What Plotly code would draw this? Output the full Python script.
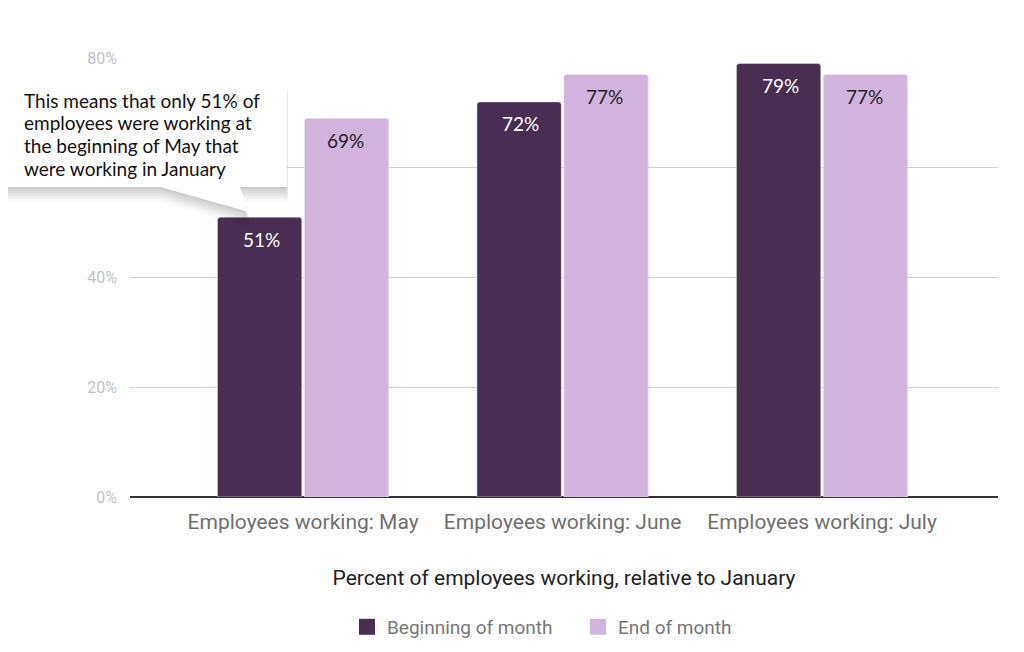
import plotly.graph_objects as go

# chart data
categories = ['Employees working: May', 'Employees working: June', 'Employees working: July']
beginning_of_month = [51, 72, 79]
end_of_month = [69, 77, 77]
y_ticks = [0, 20, 40, 60, 80]
y_tick_labels = ['0%', '20%', '40%', '', '80%']  # 60% sits behind the callout

callout_lines = ['This means that only 51% of', 'employees were working at',
                 'the beginning of May that', 'were working in January']

dark = '#482e51'
light = '#d1b4de'

fig = go.Figure()

fig.add_trace(go.Bar(name='Beginning of month', x=categories, y=beginning_of_month,
                     marker=dict(color=dark, cornerradius=3), showlegend=False, hoverinfo='skip'))
fig.add_trace(go.Bar(name='End of month', x=categories, y=end_of_month,
                     marker=dict(color=light, cornerradius=3), showlegend=False, hoverinfo='skip'))

# legend entries with bigger square swatches
for name, col in [('Beginning of month', dark), ('End of month', light)]:
    fig.add_trace(go.Scatter(x=[None], y=[None], mode='markers', name=name,
                             marker=dict(symbol='square', size=21, color=col)))


# plot-area pixel helpers (plot spans x 130..998, y 58..497 in the window)
def px(x):
    return (x - 130) / 868


def py(y):
    return (497 - y) / 439


def callout_path(dx=0, dy=0):
    pts = [(5, 78), (287, 78), (287, 187), (240, 187), (249, 212), (160, 187), (5, 187)]
    return 'M ' + ' L '.join(f'{px(x + dx):.4f},{py(y + dy):.4f}' for x, y in pts) + ' Z'


shapes = []
# soft shadow under the callout
for dx, dy in [(1, 15), (1, 12), (1, 10), (1, 8), (0, 6), (0, 4), (0, 2), (-1, 1)]:
    shapes.append(dict(type='path', xref='paper', yref='paper', path=callout_path(dx, dy),
                       fillcolor='rgba(0,0,0,0.028)', line=dict(width=0), layer='above'))
shapes.append(dict(type='path', xref='paper', yref='paper', path=callout_path(),
                   fillcolor='#ffffff', line=dict(width=0), layer='above'))

annotations = []
# value labels inside the bar tops
for i, cat in enumerate(categories):
    annotations.append(dict(x=cat, y=beginning_of_month[i], text=f'{beginning_of_month[i]}%',
                            xshift=-42, yshift=-22, showarrow=False, yanchor='middle',
                            font=dict(family='Lato', size=19, color='#ffffff')))
    annotations.append(dict(x=cat, y=end_of_month[i], text=f'{end_of_month[i]}%',
                            xshift=42, yshift=-22, showarrow=False, yanchor='middle',
                            font=dict(family='Lato', size=19, color='#222222')))
for i, line in enumerate(callout_lines):
    annotations.append(dict(
        text=line,
        xref='paper', yref='paper',
        x=px(22), y=py(100 + 22.7 * i),
        xanchor='left', yanchor='middle',
        showarrow=False,
        font=dict(family='Lato', size=19, color='#111111'),
    ))

# window has an 8px body margin, so the figure is 16px smaller than the window
fig.update_layout(
    width=1008,
    height=636,
    margin=dict(l=122, r=18, t=50, b=147, autoexpand=False),
    plot_bgcolor='white',
    paper_bgcolor='white',
    barmode='group',
    bargap=0.33,
    bargroupgap=0.03,
    font=dict(family='Roboto', color='#222222'),
    xaxis=dict(
        range=[-0.667, 2.678],
        tickfont=dict(size=21, color='#6f6f6f'),
        title=dict(text='Percent of employees working, relative to January',
                   font=dict(size=21, color='#222222'), standoff=37),
        ticklabelstandoff=10,
        showline=False,
        ticks='',
        automargin=False,
    ),
    yaxis=dict(
        range=[0, 80],
        tickvals=y_ticks,
        ticktext=y_tick_labels,
        tickfont=dict(size=16, color='#c2c2c2'),
        gridcolor='#d2d2d2',
        gridwidth=1,
        zeroline=True,
        zerolinecolor='#333333',
        zerolinewidth=1.5,
        ticklabelstandoff=12,
        automargin=False,
    ),
    legend=dict(
        orientation='h',
        x=px(578),
        xanchor='center',
        y=-0.296,
        yanchor='middle',
        font=dict(size=19, color='#777777'),
        itemwidth=30,
        entrywidth=186,
    ),
    shapes=shapes,
    annotations=annotations,
)

fig.write_html('out.html')
